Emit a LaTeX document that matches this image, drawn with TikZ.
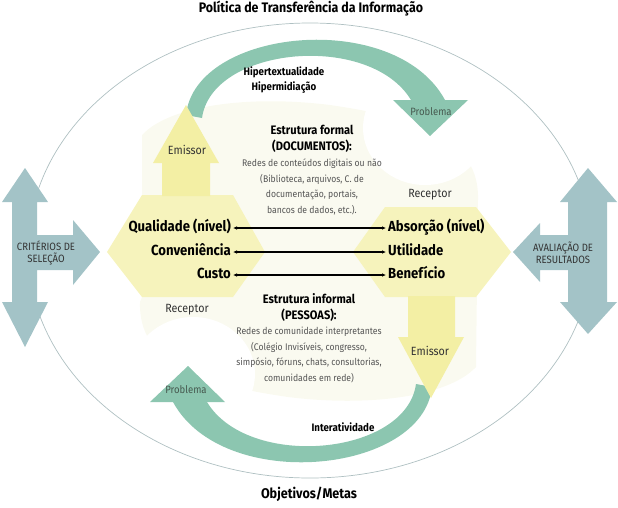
\documentclass[tikz,border=0pt]{standalone}
\usepackage{fontspec}
\setmainfont{Fira Sans}[FakeStretch=0.9]
\usepackage{xcolor}
\usetikzlibrary{arrows.meta,positioning}
\definecolor{ptgreen}{HTML}{8CC6B0}
\definecolor{ptteal}{HTML}{A3C3C7}
\definecolor{ptyellow}{HTML}{F3EFA4}
\definecolor{ptyellowl}{HTML}{F6F3BC}
\definecolor{ptpale}{HTML}{FAFAF0}
\definecolor{ptline}{HTML}{AFC0C2}
\definecolor{ptgray}{HTML}{555555}
\definecolor{ptdark}{HTML}{333333}
\definecolor{ptprob}{HTML}{46594F}

\begin{document}
\begin{tikzpicture}[x=1pt,y=-1pt,
  lbl/.style={font=\bfseries\fontsize{14.6}{14.6}\selectfont,inner sep=2pt,text height=10pt,text depth=3pt},
  hdr/.style={font=\bfseries\fontsize{12.3}{16}\selectfont,align=center},
  body/.style={font=\fontsize{9.6}{15.6}\selectfont,text=ptgray,align=center},
  role/.style={font=\fontsize{11.9}{12}\selectfont,text=ptdark},
  prob/.style={font=\fontsize{10.6}{12}\selectfont,text=ptprob},
  side/.style={font=\fontsize{10.6}{12.5}\selectfont,text=ptdark,align=center},
  small/.style={font=\bfseries\fontsize{10.8}{15}\selectfont,align=center},
  dbl/.style={{Latex[length=4pt,width=3.6pt]}-{Latex[length=4pt,width=3.6pt]},line width=1.1pt}]
\useasboundingbox (0,0) rectangle (618,507);

\draw[ptline,line width=0.7pt] (310,250.5) ellipse [x radius=282, y radius=227.5];

\fill[ptpale] (142,297) -- (142,135) .. controls (170,105) and (250,95) .. (330,105)
  .. controls (420,118) and (480,140) .. (478,200) -- (476,367)
  .. controls (448,397) and (368,407) .. (288,397)
  .. controls (198,384) and (138,362) .. (140,302) -- cycle;
\fill[white] (425,128) ellipse [x radius=62, y radius=57];
\fill[white] (193,374) ellipse [x radius=62, y radius=57];

\fill[ptgreen] (186,115) .. controls (195,28) and (395,8) .. (445,100) -- (411,100)
  .. controls (370,32) and (212,46) .. (202,118) -- cycle;
\fill[ptgreen] (393,100) -- (468,100) -- (430,136) -- cycle;
\fill[ptgreen] (432,387) .. controls (423,474) and (223,494) .. (173,402) -- (207,402)
  .. controls (248,470) and (406,456) .. (416,384) -- cycle;
\fill[ptgreen] (150,402) -- (225,402) -- (188,366) -- cycle;

\fill[ptyellowl] (107,252) -- (142,195) -- (233,195) -- (265,252) -- (233,297) -- (142,297) -- cycle;
\fill[ptyellowl] (511,252) -- (476,207) -- (385,207) -- (353,252) -- (385,297) -- (476,297) -- cycle;
\fill[ptyellow] (162,196) -- (162,163) -- (153,163) -- (186,105) -- (219,163) -- (210,163) -- (210,196) -- cycle;
\fill[ptyellow] (408,296) -- (408,337) -- (398,337) -- (431,398) -- (464,337) -- (455,337) -- (455,296) -- cycle;

\fill[ptteal] (25,168) -- (48,202) -- (37,202) -- (37,235) -- (73,235) -- (73,220) -- (100,252)
  -- (73,285) -- (73,270) -- (37,270) -- (37,302) -- (48,302) -- (25,347) -- (2,302)
  -- (12,302) -- (12,202) -- (2,202) -- cycle;
\fill[ptteal] (588,168) -- (617,202) -- (607,202) -- (607,302) -- (617,302) -- (588,334)
  -- (560,302) -- (568,302) -- (568,270) -- (540,270) -- (540,282) -- (513,252)
  -- (540,223) -- (540,235) -- (568,235) -- (568,202) -- (560,202) -- cycle;

\node[font=\bfseries\fontsize{13.8}{14}\selectfont] (title) at (311,9) {Política de Transferência da Informação};
\node[font=\bfseries\fontsize{14}{14}\selectfont] (goals) at (309,494) {Objetivos/Metas};

\node[side] (crit) at (46,253) {CRITÉRIOS DE\\SELEÇÃO};
\node[side] (aval) at (563,253) {AVALIAÇÃO DE\\RESULTADOS};

\node[small] (hiper) at (284,80) {Hipertextualidade\\Hipermidiação};
\node[small] (inter) at (343,427) {Interatividade};

\node[prob] (probT) at (431,112) {Problema};
\node[prob] (probB) at (186,390) {Problema};

\node[role] (emisL) at (187,150) {Emissor};
\node[role] (recR) at (430,195) {Receptor};
\node[role] (recL) at (187,310) {Receptor};
\node[role] (emisR) at (430,351) {Emissor};

\node[hdr] (formal) at (312,139) {Estrutura formal\\(DOCUMENTOS):};
\node[body] (docs) at (312,187) {Redes de conteúdos digitais ou não\\(Biblioteca, arquivos, C. de\\documentação, portais,\\bancos de dados, etc.).};
\node[hdr] (informal) at (309,307) {Estrutura informal\\(PESSOAS):};
\node[body] (pessoas) at (309,355) {Redes de comunidade interpretantes\\(Colégio Invisíveis, congresso,\\simpósio, fóruns, chats, consultorias,\\comunidades em rede)};

\node[lbl,anchor=east] (qual) at (233,228) {Qualidade (nível)};
\node[lbl,anchor=east] (conv) at (233,252) {Conveniência};
\node[lbl,anchor=east] (cust) at (233,275) {Custo};
\node[lbl,anchor=west] (absor) at (386,228) {Absorção (nível)};
\node[lbl,anchor=west] (util) at (386,252) {Utilidade};
\node[lbl,anchor=west] (benef) at (386,275) {Benefício};

\draw[dbl] (qual.east) -- (absor.west);
\draw[dbl] (conv.east) -- (util.west);
\draw[dbl] (cust.east) -- (benef.west);
\end{tikzpicture}
\end{document}
